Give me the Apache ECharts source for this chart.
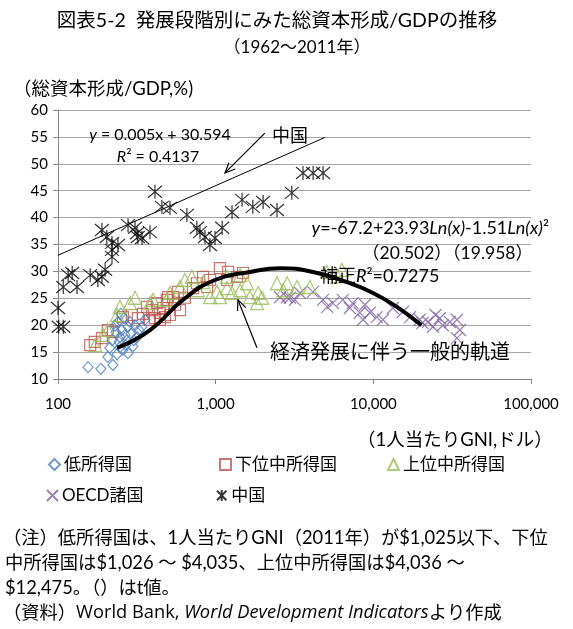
<!DOCTYPE html>
<html>
<head>
<meta charset="utf-8">
<script src="https://cdn.jsdelivr.net/npm/echarts@6/dist/echarts.min.js"></script>
<style>
  html, body { margin: 0; padding: 0; background: #fff; }
  #c { width: 573px; height: 629px; }
</style>
</head>
<body>
<div id="c"></div>
<script>
// Gross capital formation / GDP (%) against GNI per capita (US$), 1962-2011
const lowIncome = [
  [155, 12.2], [187, 11.9], [223, 12.6], [207, 14.1], [237, 14.6], [247, 15.9],
  [258, 15.4], [278, 14.8], [299, 16.1], [274, 17.2], [247, 17.8], [233, 18.7],
  [254, 19.1], [290, 18.4], [317, 17.8], [326, 19.1], [341, 19.7], [230, 19.9],
  [240, 20.6], [262, 21.3], [278, 19.7], [266, 18.2], [244, 16.9], [303, 17.2],
  [220, 17.2], [270, 16.3], [286, 20.6], [308, 20.0], [250, 22.1], [213, 15.8],
  [356, 21.0]
];
const lowerMiddle = [
  [160, 16.3], [171, 16.9], [190, 17.6], [223, 18.7], [207, 19.1], [258, 21.5],
  [294, 21.9], [321, 21.3], [367, 23.4], [424, 24.1], [443, 21.0], [476, 21.5],
  [498, 25.2], [443, 22.3], [490, 24.7], [536, 25.2], [594, 22.8], [638, 25.1],
  [718, 26.9], [832, 29.0], [922, 28.4], [1065, 30.6], [1200, 29.9], [1180, 28.4],
  [1365, 29.0], [1490, 29.7], [760, 27.8], [882, 27.1], [395, 22.8], [412, 21.3],
  [513, 21.9], [552, 23.8], [464, 23.2], [346, 22.1], [576, 26.2], [383, 21.0]
];
const upperMiddle = [
  [172, 16.3], [193, 18.2], [207, 19.1], [237, 21.9], [286, 24.1], [308, 25.1],
  [247, 23.4], [383, 24.1], [400, 24.7], [490, 24.7], [513, 26.0], [594, 27.1],
  [707, 29.0], [832, 28.0], [922, 25.2], [1020, 26.2], [1065, 25.2], [1180, 26.9],
  [1180, 29.0], [1270, 26.0], [1430, 29.3], [1430, 26.5], [1580, 27.8], [1650, 25.2],
  [1830, 24.1], [1860, 26.0], [1970, 25.1], [2450, 27.8], [2840, 27.8], [2680, 26.5],
  [3280, 27.1], [3960, 27.1], [5080, 29.9], [6320, 30.3], [5930, 29.1], [638, 28.4],
  [772, 26.5]
];
const oecd = [
  [2560, 25.2], [2960, 25.1], [3430, 26.0], [4140, 26.2], [2830, 25.2], [3180, 24.7],
  [4790, 24.7], [5100, 23.4], [5540, 24.1], [6400, 24.7], [7100, 23.2], [8200, 22.3],
  [8600, 21.0], [9500, 22.3], [10500, 21.5], [11500, 21.0], [13300, 23.2], [15400, 22.5],
  [17100, 21.5], [19700, 21.0], [20500, 20.4], [22200, 20.6], [23900, 19.7], [27600, 20.0],
  [30600, 20.6], [33900, 21.0], [35400, 19.1], [33900, 17.6], [8850, 23.8], [26400, 21.3],
  [24800, 21.9], [7400, 24.1]
];
const china = [
  [100, 23.2], [101, 19.7], [108, 19.7], [108, 27.1], [116, 29.3], [123, 29.7],
  [132, 27.1], [160, 29.3], [179, 28.4], [190, 29.0], [199, 30.3], [190, 37.7],
  [204, 36.4], [220, 35.3], [220, 34.0], [220, 32.7], [240, 34.9], [278, 38.6],
  [308, 38.1], [317, 37.1], [321, 36.4], [341, 36.2], [383, 37.3], [412, 44.8],
  [456, 42.0], [513, 41.8], [657, 40.5], [760, 38.1], [795, 37.3], [855, 36.4],
  [920, 34.9], [990, 36.2], [1100, 38.1], [1270, 41.0], [1470, 43.3], [1720, 42.0],
  [2000, 42.9], [2450, 41.4], [3040, 44.6], [3580, 48.3], [4150, 48.3], [4800, 48.3]
];
// China linear trend, end points
const chinaTrend = [[100, 33.0], [4930, 54.9]];
// General development path (fitted quadratic in ln GNI)
const pathCurve = [
  [237, 15.8], [384, 19.1], [620, 24.7], [990, 28.4], [1650, 29.9], [2560, 30.6],
  [4150, 29.9], [6800, 28.0], [9950, 26.0], [14100, 23.4], [20200, 20.0]
];
const xTicks = [100, 1000, 10000, 100000];
const seriesNames = ['低所得国', '下位中所得国', '上位中所得国', 'OECD諸国', '中国'];
// annotation arrows in data units: [from, to]
const chinaArrow = [[2050, 55.7], [1146, 48.3]];
const pathArrow = [[1828, 15.8], [1385, 24.7]];

const FONT = "Lato, 'Noto Sans CJK JP', sans-serif";
const WIDE_FONT = "'Open Sans', 'Noto Sans CJK JP', sans-serif";
const GRID_GRAY = '#a6a6a6';
const AXIS_GRAY = '#868686';

const X_PATH = 'path://M0,0L10,10M10,0L0,10';
const STAR_PATH = 'path://M0,0L12,12M12,0L0,12M6,-1L6,13';

const chart = echarts.init(document.getElementById('c'), null, { renderer: 'canvas' });

function hollow(color, width) {
  return { color: 'rgba(0,0,0,0)', borderColor: color, borderWidth: width };
}

function legendAt(name, left, top) {
  return {
    data: [name], left: left, top: top, padding: 0,
    itemWidth: 11, itemHeight: 11, itemGap: 4,
    textStyle: { fontFamily: FONT, fontSize: 17, color: '#000', padding: [0, 0, 0, -1] },
    selectedMode: false
  };
}

const option = {
  animation: false,
  grid: { left: 58, right: 42, top: 110, bottom: 250 },
  xAxis: {
    type: 'log', logBase: 10, min: xTicks[0], max: xTicks[xTicks.length - 1],
    axisLine: { show: true, lineStyle: { color: AXIS_GRAY, width: 1 } },
    axisTick: { show: true, length: 5, lineStyle: { color: AXIS_GRAY } },
    minorTick: { show: false },
    splitLine: { show: false },
    axisLabel: {
      margin: 18, fontFamily: FONT, fontSize: 15, color: '#000',
      formatter: v => Number(v).toLocaleString('en-US')
    }
  },
  yAxis: {
    type: 'value', min: 10, max: 60, interval: 5,
    axisLine: { show: true, lineStyle: { color: AXIS_GRAY, width: 1 } },
    axisTick: { show: true, length: 5, lineStyle: { color: AXIS_GRAY } },
    splitLine: { show: true, lineStyle: { color: GRID_GRAY, width: 1 } },
    axisLabel: { margin: 10, fontFamily: FONT, fontSize: 15, color: '#000' }
  },
  legend: [
    legendAt(seriesNames[0], 48, 456),
    legendAt(seriesNames[1], 219, 456),
    legendAt(seriesNames[2], 387, 456),
    legendAt(seriesNames[3], 46, 487),
    legendAt(seriesNames[4], 216, 487)
  ],
  series: [
    { name: seriesNames[0], type: 'scatter', data: lowIncome, symbol: 'diamond',
      symbolSize: [10, 11], itemStyle: hollow('#4f81bd', 1.2), z: 3 },
    { name: seriesNames[1], type: 'scatter', data: lowerMiddle, symbol: 'rect',
      symbolSize: 11, itemStyle: hollow('#c0504d', 1.2), z: 2 },
    { name: seriesNames[2], type: 'scatter', data: upperMiddle, symbol: 'triangle',
      symbolSize: 13, itemStyle: hollow('#9bbb59', 1.3), z: 4 },
    { name: seriesNames[3], type: 'scatter', data: oecd, symbol: X_PATH,
      symbolSize: 12, itemStyle: hollow('#8064a2', 1.3), z: 2 },
    { name: seriesNames[4], type: 'scatter', data: china, symbol: STAR_PATH,
      symbolSize: 14, itemStyle: hollow('#000', 1.2), z: 5 },
    { name: 'china-trend', type: 'line', data: chinaTrend, symbol: 'none',
      lineStyle: { color: '#000', width: 1 }, z: 6, silent: true },
    { name: 'path-curve', type: 'line', data: pathCurve, symbol: 'none', smooth: 0.5,
      lineStyle: { color: '#000', width: 4 }, z: 7, silent: true }
  ]
};
chart.setOption(option);

// text blocks and arrows
function txt(text, x, y, size, align) {
  return {
    type: 'text', x: x, y: y, silent: true, z: 20,
    style: {
      text: text, fontFamily: FONT, fontSize: size, fill: '#000',
      align: align || 'left', verticalAlign: 'middle',
      rich: {
        i: { fontStyle: 'italic', fontFamily: FONT, fontSize: size },
        w: { fontFamily: WIDE_FONT, fontSize: size },
        wi: { fontStyle: 'italic', fontFamily: WIDE_FONT, fontSize: size }
      }
    }
  };
}

function arrow(seg) {
  const a = chart.convertToPixel({ gridIndex: 0 }, seg[0]);
  const b = chart.convertToPixel({ gridIndex: 0 }, seg[1]);
  const ang = Math.atan2(b[1] - a[1], b[0] - a[0]);
  const len = 11, spread = 0.42;
  const p1 = [b[0] - len * Math.cos(ang - spread), b[1] - len * Math.sin(ang - spread)];
  const p2 = [b[0] - len * Math.cos(ang + spread), b[1] - len * Math.sin(ang + spread)];
  return [
    { type: 'line', silent: true, z: 20, shape: { x1: a[0], y1: a[1], x2: b[0], y2: b[1] },
      style: { stroke: '#000', lineWidth: 1.2 } },
    { type: 'polyline', silent: true, z: 20, shape: { points: [p1, b, p2] },
      style: { stroke: '#000', lineWidth: 1.2, fill: null } }
  ];
}

const graphics = [
  txt('図表5-2  発展段階別にみた総資本形成/GDPの推移', 277, 21, 19.5, 'center'),
  txt('（1962～2011年）', 297, 48, 17, 'center'),
  txt('（総資本形成/GDP,%)', 13, 89, 18.5, 'left'),
  txt('（1人当たりGNI,ドル）', 357, 440, 18.5, 'left'),
  txt('{i|y} = 0.005x + 30.594', 160, 135, 16, 'center'),
  txt('{i|R}² = 0.4137', 158, 157, 16, 'center'),
  txt('中国', 290, 136, 18, 'center'),
  txt('{i|y}=-67.2+23.93{i|Ln(x)}-1.51{i|Ln(x)}²', 549, 228, 18, 'right'),
  txt('（20.502）（19.958）', 533, 253, 17.5, 'right'),
  txt('補正{i|R}²=0.7275', 320, 276, 18, 'left'),
  txt('経済発展に伴う一般的軌道', 270, 353, 20, 'left'),
  txt('（注）低所得国は、1人当たりGNI（2011年）が$1,025以下、下位', 3, 538, 18.3, 'left'),
  txt('中所得国は$1,026 ～ $4,035、上位中所得国は$4,036 ～', 5, 563, 18.3, 'left'),
  txt('$12,475。（）はt値。', 5, 588, 18.3, 'left'),
  txt('（資料）{w|World Bank, }{wi|World Development Indicators}より作成', 3, 613, 18.3, 'left')
].concat(arrow(chinaArrow), arrow(pathArrow));

chart.setOption({ graphic: graphics });
</script>
</body>
</html>
